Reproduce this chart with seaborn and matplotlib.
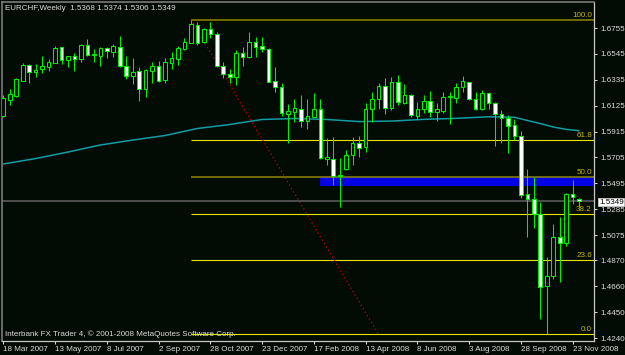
import numpy as np
import pandas as pd
import matplotlib
matplotlib.use("Agg")
import matplotlib.pyplot as plt
import seaborn as sns

# ---------------- data ----------------
symbol_title = "EURCHF,Weekly  1.5368 1.5374 1.5306 1.5349"
footer_text = "Interbank FX Trader 4, \u00a9 2001-2008 MetaQuotes Software Corp."

opens = [1.6041, 1.6171, 1.6206, 1.6327, 1.6455, 1.6398, 1.6422, 1.6441, 1.6473, 1.6598,
         1.6495, 1.6528, 1.6501, 1.6617, 1.6534, 1.6528, 1.6593, 1.6560, 1.6598, 1.6447,
         1.6366, 1.6406, 1.6258, 1.6406, 1.6449, 1.6333, 1.6473, 1.6503, 1.6582, 1.6636,
         1.6779, 1.6644, 1.6744, 1.6704, 1.6447, 1.6382, 1.6360, 1.6550, 1.6522, 1.6644,
         1.6611, 1.6585, 1.6327, 1.6274, 1.6057, 1.6076, 1.6100, 1.6003, 1.6035, 1.6095,
         1.5692, 1.5692, 1.5554, 1.5611, 1.5725, 1.5820, 1.5787, 1.6095, 1.6177, 1.6284,
         1.6104, 1.6319, 1.6144, 1.6211, 1.6043, 1.6098, 1.6165, 1.6071, 1.6084, 1.6198,
         1.6185, 1.6274, 1.6314, 1.6177, 1.6095, 1.6225, 1.6144, 1.6055, 1.6022, 1.5968,
         1.5879, 1.5408, 1.5368, 1.5246, 1.4664, 1.4743, 1.5057, 1.5008, 1.5406, 1.5368]

highs = [1.6211, 1.6258, 1.6347, 1.6469, 1.6463, 1.6463, 1.6528, 1.6501, 1.6609, 1.6601,
         1.6528, 1.6550, 1.6625, 1.6666, 1.6582, 1.6603, 1.6598, 1.6625, 1.6690, 1.6528,
         1.6509, 1.6441, 1.6422, 1.6477, 1.6490, 1.6509, 1.6558, 1.6609, 1.6676, 1.6823,
         1.6806, 1.6753, 1.6801, 1.6720, 1.6482, 1.6420, 1.6577, 1.6598, 1.6725, 1.6682,
         1.6684, 1.6589, 1.6441, 1.6311, 1.6136, 1.6177, 1.6211, 1.6177, 1.6225, 1.6177,
         1.5860, 1.5873, 1.5698, 1.5765, 1.5873, 1.5879, 1.6149, 1.6238, 1.6306, 1.6347,
         1.6360, 1.6374, 1.6301, 1.6220, 1.6152, 1.6211, 1.6244, 1.6149, 1.6238, 1.6233,
         1.6306, 1.6366, 1.6319, 1.6238, 1.6252, 1.6238, 1.6157, 1.6090, 1.6049, 1.6014,
         1.5922, 1.5609, 1.5549, 1.5346, 1.4900, 1.5162, 1.5224, 1.5414, 1.5522, 1.5374]

lows = [1.6033, 1.6130, 1.6193, 1.6325, 1.6311, 1.6360, 1.6387, 1.6406, 1.6469, 1.6463,
        1.6436, 1.6409, 1.6482, 1.6528, 1.6482, 1.6449, 1.6514, 1.6517, 1.6441, 1.6339,
        1.6301, 1.6163, 1.6193, 1.6311, 1.6321, 1.6311, 1.6425, 1.6455, 1.6577, 1.6631,
        1.6617, 1.6631, 1.6671, 1.6441, 1.6347, 1.6306, 1.6293, 1.6447, 1.6514, 1.6522,
        1.6563, 1.6317, 1.6238, 1.6041, 1.5820, 1.5995, 1.5954, 1.5933, 1.6033, 1.5690,
        1.5644, 1.5481, 1.5305, 1.5607, 1.5644, 1.5711, 1.5751, 1.5995, 1.6095, 1.6057,
        1.6090, 1.6130, 1.6138, 1.6031, 1.6017, 1.6063, 1.6035, 1.6003, 1.6063, 1.5976,
        1.6149, 1.6238, 1.6171, 1.6090, 1.6090, 1.6095, 1.5798, 1.5824, 1.5743, 1.5846,
        1.5373, 1.5057, 1.5130, 1.4394, 1.4270, 1.4719, 1.4697, 1.4986, 1.5327, 1.5306]

closes = [1.6185, 1.6220, 1.6339, 1.6455, 1.6400, 1.6418, 1.6449, 1.6482, 1.6590, 1.6495,
          1.6525, 1.6501, 1.6617, 1.6536, 1.6542, 1.6595, 1.6571, 1.6609, 1.6447, 1.6366,
          1.6400, 1.6260, 1.6414, 1.6449, 1.6325, 1.6482, 1.6509, 1.6590, 1.6639, 1.6787,
          1.6636, 1.6744, 1.6704, 1.6447, 1.6382, 1.6360, 1.6555, 1.6522, 1.6644, 1.6603,
          1.6585, 1.6319, 1.6274, 1.6063, 1.6082, 1.6104, 1.6000, 1.6041, 1.6095, 1.5703,
          1.5711, 1.5557, 1.5560, 1.5725, 1.5820, 1.5784, 1.6095, 1.6177, 1.6284, 1.6104,
          1.6319, 1.6152, 1.6211, 1.6049, 1.6098, 1.6165, 1.6071, 1.6095, 1.6198, 1.6201,
          1.6274, 1.6325, 1.6177, 1.6095, 1.6225, 1.6144, 1.6055, 1.6022, 1.5960, 1.5879,
          1.5400, 1.5368, 1.5246, 1.4651, 1.4743, 1.5062, 1.5008, 1.5406, 1.5381, 1.5349]

# moving average (read at selected bars)
ma_bars = [0, 5, 10, 15, 20, 25, 30, 35, 40, 45, 50, 55, 60, 65, 70, 75, 79, 81, 83, 85, 87, 89]
ma_values = [1.5652, 1.5696, 1.5749, 1.5806, 1.5846, 1.5883, 1.5940, 1.5972, 1.6013, 1.6021,
             1.6013, 1.5996, 1.6000, 1.6014, 1.6022, 1.6035, 1.6031, 1.6005, 1.5980, 1.5952,
             1.5933, 1.5922]

# Fibonacci retracement anchors
fib_high_bar = 29
fib_low_anchor_bar = 58
fib_low_bar = 84
fib_ratios = [0.0, 23.6, 38.2, 50.0, 61.8, 100.0]
fib_olive_levels = [50.0, 100.0]

# blue rectangle zone
rect_start_bar = 49
rect_bottom = 1.5473
rect_top = 1.5543

# axis labels
ytick_values = [1.6755, 1.6545, 1.6335, 1.6125, 1.5915, 1.5705, 1.5495, 1.5285,
                1.5075, 1.4870, 1.4660, 1.4450, 1.4240]
ytick_labels = ["1.6755", "1.6545", "1.6335", "1.6125", "1.5915", "1.5705", "1.5495",
                "1.5285", "1.5075", "1.4870", "1.4660", "1.4450", "1.4240"]
date_bars = [0, 8, 16, 24, 32, 40, 48, 56, 64, 72, 80, 88]
date_labels = ["18 Mar 2007", "13 May 2007", "8 Jul 2007", "2 Sep 2007", "28 Oct 2007",
               "23 Dec 2007", "17 Feb 2008", "13 Apr 2008", "8 Jun 2008", "3 Aug 2008",
               "28 Sep 2008", "23 Nov 2008"]

# ---------------- styling ----------------
sns.set_theme(style="dark")
plt.rcParams["font.family"] = ["Liberation Sans", "DejaVu Sans"]

BG = "#030b05"
LIME = "#00f000"
TXT = "#dcdcdc"
FS = 5.8

df = pd.DataFrame(dict(bar=np.arange(len(opens)), open=opens, high=highs,
                       low=lows, close=closes))
df["up"] = df["close"] >= df["open"]
df["body_lo"] = df[["open", "close"]].min(axis=1)
df["body_h"] = (df["close"] - df["open"]).abs().clip(lower=0.00005)

W, H = 625, 355
fig = plt.figure(figsize=(W / 100, H / 100), dpi=100, facecolor=BG)
ax = fig.add_axes([2 / W, 14 / H, 592 / W, 339 / H])
ax.set_facecolor(BG)
ax.grid(False)

x_left, x_right = -0.2, 91.3
ax.set_xlim(x_left, x_right)
ax.set_ylim(1.4216, 1.6966)

# blue zone (background)
ax.fill_between([rect_start_bar, x_right + 2], rect_bottom, rect_top,
                color="#0000e6", lw=0, zorder=1)

# current price line
ax.axhline(closes[-1], color="#5a5a5a", lw=1.2, zorder=1.5)

# moving average
sns.lineplot(x=ma_bars, y=ma_values, ax=ax, color="#129ca4", lw=1.1, zorder=2)

# fibonacci
fib_high = highs[fib_high_bar]
fib_low = lows[fib_low_bar]
for r in fib_ratios:
    lvl = fib_low + r / 100.0 * (fib_high - fib_low)
    col = "#8f8600" if r in fib_olive_levels else "#e6e600"
    ax.hlines(lvl, fib_high_bar, x_right + 2, color=col, lw=0.8 if col == "#e6e600" else 1.1,
              zorder=2.5)
    ax.annotate(f"{r:.1f}", (1, lvl), xycoords=("axes fraction", "data"),
                xytext=(-1.5, 0.8), textcoords="offset points", ha="right", va="bottom",
                color="#c8b800", fontsize=FS, zorder=6)
ax.plot([fib_high_bar, fib_low_anchor_bar], [fib_high, fib_low], color="#c80000",
        ls=(0, (1, 2.2)), lw=0.9, zorder=2.6)

# candles
ax.vlines(df["bar"], df["low"], df["high"], color=LIME, lw=0.75, zorder=4)
ax.bar(df["bar"], df["body_h"], bottom=df["body_lo"], width=0.56,
       color=np.where(df["up"], BG, "white"), edgecolor=LIME, linewidth=0.75, zorder=5)

# axes / ticks
for s in ["left", "top"]:
    ax.spines[s].set_visible(True)
    ax.spines[s].set_color("#7a7a7a")
    ax.spines[s].set_linewidth(1.2)
for s in ["right", "bottom"]:
    ax.spines[s].set_visible(True)
    ax.spines[s].set_color("#c8c8c8")
    ax.spines[s].set_linewidth(0.9)

ax.yaxis.tick_right()
ax.set_yticks(ytick_values)
ax.set_yticklabels(ytick_labels)
ax.set_xticks(date_bars)
ax.set_xticklabels(date_labels)
ax.tick_params(axis="y", right=True, left=False, labelright=True, labelleft=False,
               colors=TXT, length=2.5, width=0.7, pad=1.8, labelsize=FS, direction="out")
ax.tick_params(axis="x", bottom=True, colors=TXT, length=2.5, width=0.7, pad=1.2,
               labelsize=FS, direction="out")
for lbl in ax.get_xticklabels():
    lbl.set_ha("left")
ax.set_xlabel("")
ax.set_ylabel("")

# texts
fig.text(5 / W, 1 - 8.5 / H, symbol_title, color=TXT, fontsize=FS, ha="left", va="center")
fig.text(5 / W, 1 - 334.5 / H, footer_text, color=TXT, fontsize=FS, ha="left", va="center")
fig.text(599 / W, 1 - 202 / H, f"{closes[-1]:.4f}", color="black", fontsize=FS,
         ha="left", va="center",
         bbox=dict(facecolor="white", edgecolor="#c8c8c8", linewidth=0.6,
                   boxstyle="square,pad=0.08"))

fig.savefig("out.png", dpi=100, facecolor=BG)
